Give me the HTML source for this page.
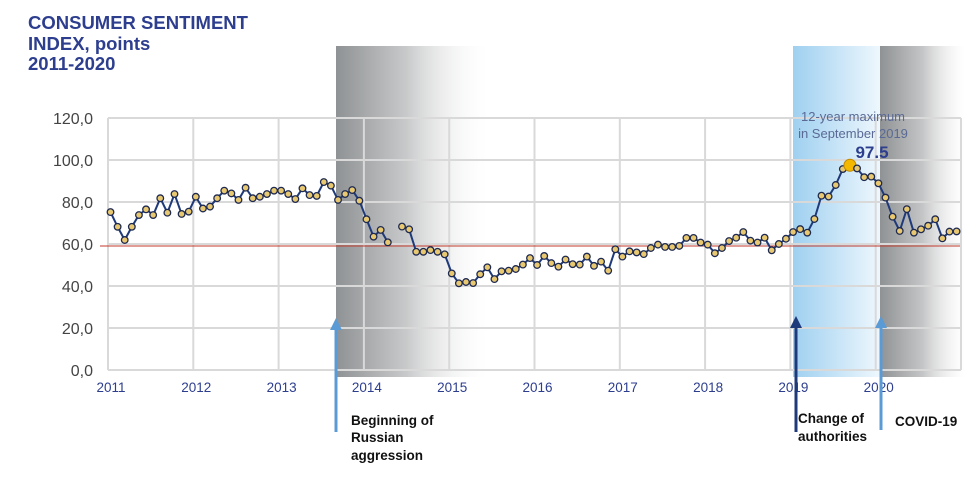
<!DOCTYPE html>
<html><head><meta charset="utf-8"><style>
body{margin:0;background:#fff;width:975px;height:472px;overflow:hidden;font-family:"Liberation Sans",sans-serif}
</style></head><body>
<svg id="s" width="975" height="472" xmlns="http://www.w3.org/2000/svg">
<defs>
<linearGradient id="g1" x1="0" x2="1"><stop offset="0" stop-color="#8f9294"/><stop offset="0.45" stop-color="#c8c9ca"/><stop offset="1" stop-color="#fff" stop-opacity="0"/></linearGradient>
<linearGradient id="g2" x1="0" x2="1"><stop offset="0" stop-color="#9fd0f0"/><stop offset="1" stop-color="#eef7fd"/></linearGradient>
<linearGradient id="g3" x1="0" x2="1"><stop offset="0" stop-color="#8f9294"/><stop offset="0.5" stop-color="#c4c5c6"/><stop offset="1" stop-color="#fff" stop-opacity="0.3"/></linearGradient>
</defs>
<rect x="336" y="46" width="156" height="331" fill="url(#g1)"/>
<rect x="793" y="46" width="87" height="331" fill="url(#g2)"/>
<rect x="880" y="46" width="85" height="331" fill="url(#g3)"/>
<g id="grid" stroke="#d9d9d9" stroke-width="2" fill="none"></g>
<line x1="100" y1="246" x2="960" y2="246" stroke="#c0392b" stroke-width="1"/>
<g id="ylab" font-size="16" fill="#444" text-anchor="end"></g>
<g id="xlab" font-size="13.5" fill="#2d3e8f" text-anchor="middle"></g>
<g id="ser"></g>
<g font-weight="bold" fill="#2d3e8f" font-size="18.5">
<text x="28" y="29">CONSUMER SENTIMENT</text><text x="28" y="50">INDEX, points</text><text x="28" y="70">2011-2020</text></g>
<g font-size="13" fill="#5a6a95" text-anchor="middle"><text x="853" y="121">12-year maximum</text><text x="853" y="138">in September 2019</text></g>
<text x="872" y="158" font-size="17" font-weight="bold" fill="#2d3e8f" text-anchor="middle">97.5</text>
<g stroke-width="3"><line x1="336" y1="328" x2="336" y2="432" stroke="#5b9bd5"/><line x1="796" y1="326" x2="796" y2="432" stroke="#1f3a7a"/><line x1="881" y1="326" x2="881" y2="430" stroke="#5b9bd5"/></g>
<polygon points="330,330 342,330 336,318" fill="#5b9bd5"/><polygon points="790,328 802,328 796,316" fill="#1f3a7a"/><polygon points="875,328 887,328 881,316" fill="#5b9bd5"/>
<g font-size="13.5" font-weight="bold" fill="#111"><text x="351" y="425">Beginning of</text><text x="351" y="442">Russian</text><text x="351" y="460">aggression</text>
<text x="798" y="423">Change of</text><text x="798" y="441">authorities</text><text x="895" y="426">COVID-19</text></g>
</svg>
<script>
var ns="http://www.w3.org/2000/svg";function el(p,t,a,tx){var e=document.createElementNS(ns,t);for(var k in a)e.setAttribute(k,a[k]);if(tx)e.textContent=tx;document.getElementById(p).appendChild(e);}
function Y(v){return 370-v*2.1}
for(var i=0;i<=6;i++){el("grid","line",{x1:108,x2:961,y1:Y(i*20),y2:Y(i*20)});el("ylab","text",{x:93,y:Y(i*20)+6},(i*20)+",0");}
for(var j=0;j<=10;j++){var x=108+j*85.3;el("grid","line",{x1:x,x2:x,y1:118,y2:370});if(j<10)el("xlab","text",{x:x+3,y:392},2011+j);}
var d=[75.2,68.2,61.9,68.2,73.8,76.5,73.8,81.8,74.9,83.8,74.3,75.4,
82.5,76.9,77.8,81.8,85.4,84.1,81,86.8,81.8,82.5,83.8,85.4,
85.4,83.8,81.4,86.5,83.3,82.9,89.5,87.8,81,83.8,85.7,80.6,
71.8,63.5,66.7,60.8,null,68.3,67,56.3,56.3,57.1,56.3,55.1,
46,41.3,41.9,41.4,45.6,48.9,43.3,47,47.3,48.1,50.2,53.3,
50,54.3,50.9,49.2,52.6,50.4,50.2,54,49.6,51.6,47.3,57.5,
54,56.5,56,55.2,58.1,59.7,58.6,58.6,59.1,62.9,62.9,60.7,
59.7,55.6,58.1,61.4,63,65.7,61.6,60.7,63,57,60,62.5,
65.7,67.1,65.4,71.9,83,82.6,88.1,95.7,97.5,96,91.8,92.1,
88.9,82.1,73,66.2,76.6,65.4,67,68.7,71.8,62.7,65.9,66];
var seg="",pts=[];
d.forEach(function(v,i){if(v==null){seg+=" ";return;}var x=110.5+i*7.11,y=Y(v);seg+=(seg===""||seg.slice(-1)==" "?"M":"L")+x.toFixed(1)+","+y.toFixed(1);pts.push([x,y,i]);});
el("ser","path",{d:seg.replace(/ /g,""),fill:"none",stroke:"#1f3a7a","stroke-width":2});
pts.forEach(function(p){if(p[2]==104)el("ser","circle",{cx:p[0],cy:p[1],r:6,fill:"#f5b800",stroke:"#c08a00","stroke-width":1});else el("ser","circle",{cx:p[0],cy:p[1],r:3.3,fill:"#e8c870",stroke:"#1f2a50","stroke-width":1.3});});
</script>
</body></html>
